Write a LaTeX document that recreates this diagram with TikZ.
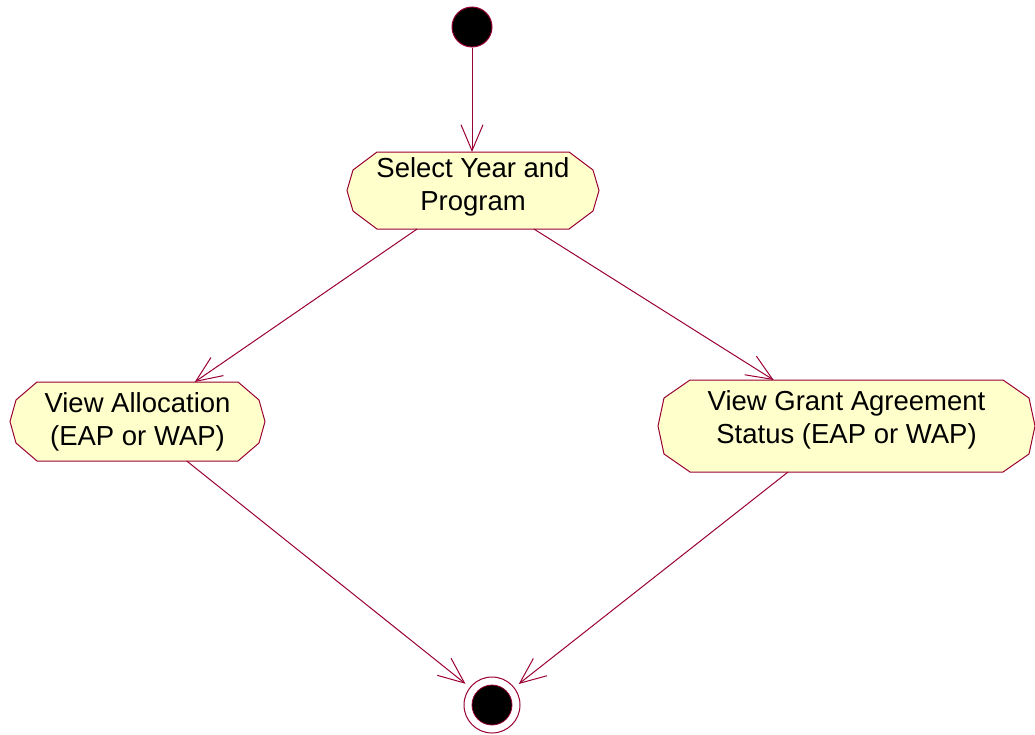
\documentclass[tikz,border=0pt]{standalone}
\usepackage{fontspec}
\setmainfont{Liberation Sans}
\usetikzlibrary{arrows.meta,calc,backgrounds}
\definecolor{linecol}{HTML}{990033}
\definecolor{actfill}{HTML}{FFFFCC}
\begin{document}
\begin{tikzpicture}[x=1pt,y=-1pt,
 conn/.style={draw=linecol, line width=1pt, -{Straight Barb[length=26pt,width=22pt]}},
 act/.style={shape=rectangle, inner sep=0pt, outer sep=0pt, align=center, font=\fontsize{27.5}{33}\selectfont},
 outline/.style={draw=linecol, fill=actfill, line width=1pt},
]
\useasboundingbox (0,0) rectangle (1035,734);
\node[circle, fill=black, draw=linecol, line width=1pt, minimum size=40pt, inner sep=0pt] (start) at (472,27) {};
\node[act, minimum width=252pt, minimum height=77pt, text depth=13.7pt] (sel) at (473,190.5) {Select Year and\\Program};
\node[act, minimum width=255pt, minimum height=79pt] (alloc) at (137.5,421.5) {View Allocation\\(EAP or WAP)};
\node[act, minimum width=377pt, minimum height=92pt, text depth=17.7pt] (grant) at (846.5,426) {View Grant Agreement\\Status (EAP or WAP)};
\node[circle, draw=linecol, line width=1pt, minimum size=56pt, inner sep=0pt, outer sep=6pt] (end) at (492,705) {};
\node[circle, fill=black, draw=linecol, line width=0.8pt, minimum size=40pt, inner sep=0pt] (endin) at (end) {};
\begin{scope}[on background layer]
\foreach \n/\d in {sel/30, alloc/27, grant/32} {
  \draw[outline] ($(\n.north west)+(\d,0)$) -- ($(\n.north east)+(-\d,0)$)
    -- ($(\n.north east)+(-6,18)$) -- (\n.east) -- ($(\n.south east)+(-6,-18)$)
    -- ($(\n.south east)+(-\d,0)$) -- ($(\n.south west)+(\d,0)$)
    -- ($(\n.south west)+(6,-18)$) -- (\n.west) -- ($(\n.north west)+(6,18)$) -- cycle;
}
\end{scope}
\draw[conn] (start) -- (start |- sel.north);
\draw[conn] (sel) -- (alloc);
\draw[conn] (sel) -- (grant);
\draw[conn] (alloc) -- (end);
\draw[conn] (grant) -- (end);
\end{tikzpicture}
\end{document}
